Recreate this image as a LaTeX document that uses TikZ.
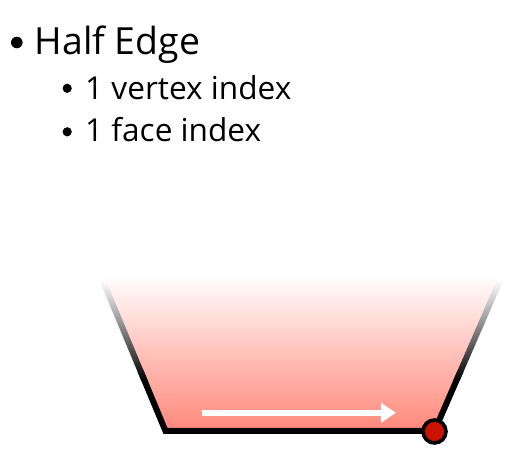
\documentclass[tikz,border=0pt]{standalone}
\usepackage{fontspec}
\setmainfont{Open Sans}
\usetikzlibrary{arrows.meta}
\definecolor{salmon}{RGB}{255,136,122}
\definecolor{vtxred}{RGB}{204,18,0}
\tikzset{
  titletext/.style={anchor=base west, inner sep=0pt, font=\fontsize{37.4}{40}\selectfont},
  subtext/.style={anchor=base west, inner sep=0pt, font=\fontsize{31.6}{36}\selectfont},
  edgefade/.style={bottom color=black, middle color=black!72, top color=white, draw=none},
  solidedge/.style={draw=black, line width=6pt, line join=miter},
  halfedge/.style={draw=white, line width=6pt, -{Triangle[length=15pt,width=19pt]}},
  vertexdot/.style={circle, fill=vtxred, draw=black, line width=3.6pt, minimum size=23pt, inner sep=0pt}
}
\begin{document}
\begin{tikzpicture}[x=1pt,y=1pt]
\useasboundingbox (0,0) rectangle (523,466);
% text
\fill (16.8,423.5) circle (5.8);
\node[titletext] (title) at (34.5,411.7) {Half Edge};
\fill (67.2,377.7) circle (4.6);
\node[subtext] (sub1) at (85,366.7) {1 vertex index};
\fill (67.2,334.2) circle (4.6);
\node[subtext] (sub2) at (85,324.3) {1 face index};
% face fill
\coordinate (BL) at (165.5,35);
\coordinate (BR) at (434.5,35);
\coordinate (LT) at (100.4,191);
\coordinate (RT) at (502.4,191);
\shade[top color=white, bottom color=salmon, middle color=salmon!52!white]
  (BL) -- (BR) -- (RT) -- (LT) -- cycle;
% edges: solid lower part
\coordinate (LM) at (140.5,95);
\coordinate (RM) at (460.6,95);
\draw[solidedge] (LM) -- (BL) -- (BR) -- (RM);
% fading upper parts
\shade[edgefade] (141.4,85) -- (147.9,85) -- (105.8,186) -- (99.3,186) -- cycle;
\shade[edgefade] (453.0,85) -- (459.5,85) -- (503.5,186) -- (496.9,186) -- cycle;
% half edge arrow
\coordinate (A0) at (201.5,53.2);
\coordinate (A1) at (396,53.2);
\draw[halfedge] (A0) -- (A1);
% vertex
\node[vertexdot] (vtx) at (434.5,34.5) {};
\end{tikzpicture}
\end{document}
